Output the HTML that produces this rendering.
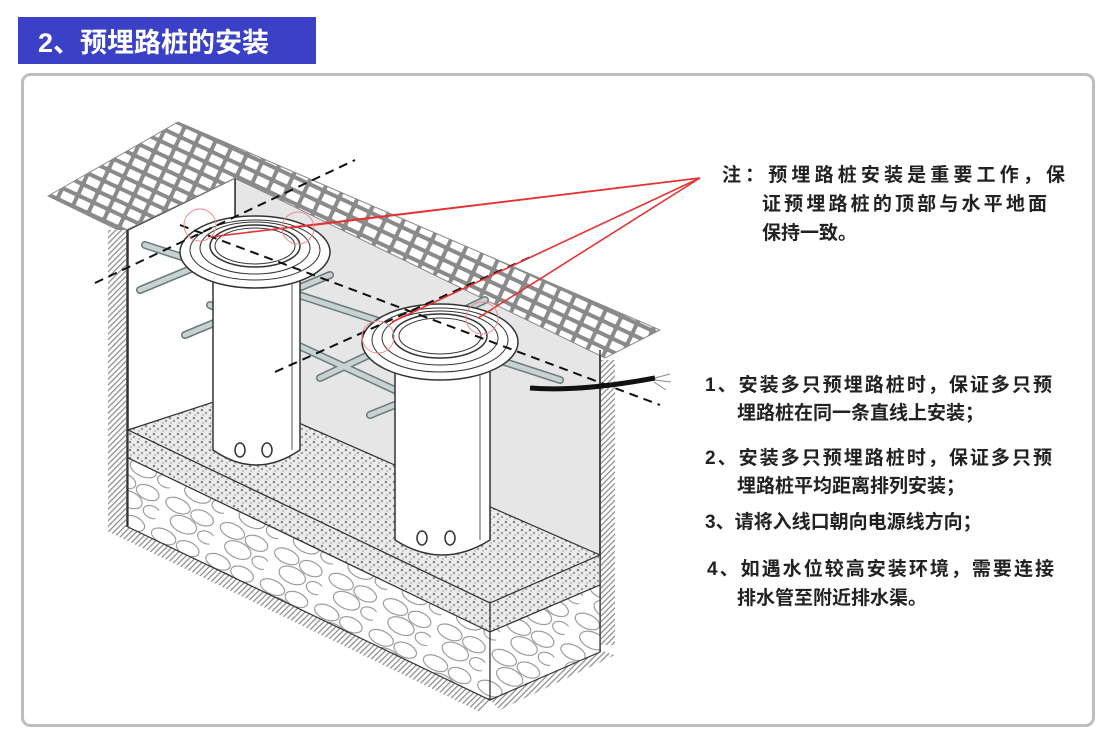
<!DOCTYPE html>
<html><head><meta charset="utf-8"><style>
body{margin:0;background:#fff;width:1109px;height:742px;overflow:hidden;font-family:"Liberation Sans","Noto Sans CJK SC",sans-serif}
</style></head><body>
<svg width="1109" height="742" viewBox="0 0 1109 742" xmlns="http://www.w3.org/2000/svg" font-family="Liberation Sans, Noto Sans CJK SC, sans-serif">
<defs>
<pattern id="grid" width="17" height="12" patternUnits="userSpaceOnUse" patternTransform="rotate(25)">
<rect width="17" height="12" fill="#8a8a8a"/><rect x="2" y="2" width="13" height="8" rx="1" fill="#fff"/>
</pattern>
<pattern id="hatch" width="4" height="4" patternUnits="userSpaceOnUse" patternTransform="rotate(45)">
<rect width="4" height="4" fill="#fff"/><rect width="1.2" height="4" fill="#888"/>
</pattern>
<pattern id="dots" width="8" height="8" patternUnits="userSpaceOnUse">
<rect width="8" height="8" fill="#ececec"/><circle cx="2" cy="2" r="1.3" fill="#8a8a8a"/><circle cx="6" cy="5" r="1.2" fill="#9a9a9a"/><circle cx="3" cy="7" r="0.9" fill="#aaa"/>
</pattern>
<pattern id="stones" width="60" height="34" patternUnits="userSpaceOnUse" patternTransform="rotate(25)">
<rect width="60" height="34" fill="#fff"/>
<ellipse cx="15" cy="9" rx="13" ry="7" fill="none" stroke="#888" stroke-width="1"/>
<ellipse cx="42" cy="10" rx="12" ry="7" fill="none" stroke="#888" stroke-width="1"/>
<ellipse cx="28" cy="24" rx="14" ry="8" fill="none" stroke="#888" stroke-width="1"/>
<ellipse cx="54" cy="26" rx="9" ry="6" fill="none" stroke="#888" stroke-width="1"/>
</pattern>
</defs>
<rect x="18" y="17" width="298" height="47" fill="#3a41c6"/>
<text x="38" y="52" font-size="27" font-weight="bold" fill="#fff">2、预埋路桩的安装</text>
<rect x="22.5" y="74.5" width="1071" height="651" rx="8" fill="#fff" stroke="#bdbdbd" stroke-width="3"/>

<polygon points="235,178 600,350 600,560 235,400" fill="#e6e6e6" stroke="#333" stroke-width="1.5"/>
<polygon points="128,230 235,178 235,400 128,430" fill="#fff" stroke="#333" stroke-width="1.5"/>
<polygon points="48,196 178,122 660,330 605,358 235,178 122,232" fill="url(#grid)" stroke="#888" stroke-width="1"/>
<rect x="108" y="230" width="18" height="300" fill="url(#hatch)"/>
<line x1="127" y1="230" x2="127" y2="527" stroke="#333" stroke-width="1.5"/>
<polygon points="105,530 128,527 490,700 480,712" fill="url(#hatch)"/>
<polygon points="490,700 600,650 615,655 500,710" fill="url(#hatch)"/>
<rect x="601" y="360" width="14" height="285" fill="url(#hatch)"/>
<line x1="600" y1="350" x2="600" y2="652" stroke="#333" stroke-width="1.5"/>
<polygon points="128,430 235,395 600,555 490,603" fill="url(#dots)" stroke="#333" stroke-width="1.2"/>
<polygon points="128,430 490,603 490,632 128,458" fill="url(#dots)" stroke="#333" stroke-width="1.2"/>
<polygon points="490,603 600,555 600,585 490,632" fill="url(#dots)" stroke="#333" stroke-width="1.2"/>
<polygon points="128,458 490,632 490,700 128,527" fill="url(#stones)" stroke="#333" stroke-width="1.2"/>
<polygon points="490,632 600,585 600,652 490,700" fill="url(#stones)" stroke="#333" stroke-width="1.2"/>

<g stroke="#6a7a7a" stroke-width="8" stroke-linecap="round">
<line x1="145" y1="245" x2="560" y2="380"/>
<line x1="140" y1="290" x2="285" y2="230"/>
<line x1="185" y1="335" x2="330" y2="275"/>
<line x1="320" y1="378" x2="485" y2="300"/>
<line x1="370" y1="415" x2="505" y2="360"/>
<line x1="210" y1="305" x2="460" y2="420"/>
</g>
<g stroke="#c9d2d2" stroke-width="5" stroke-linecap="round">
<line x1="145" y1="245" x2="560" y2="380"/>
<line x1="140" y1="290" x2="285" y2="230"/>
<line x1="185" y1="335" x2="330" y2="275"/>
<line x1="320" y1="378" x2="485" y2="300"/>
<line x1="370" y1="415" x2="505" y2="360"/>
<line x1="210" y1="305" x2="460" y2="420"/>
</g>
<path d="M530,388 Q580,392 655,378" stroke="#111" stroke-width="5" fill="none"/>
<path d="M655,378 l15,-4 M655,380 l16,2 M654,382 l12,8" stroke="#888" stroke-width="1" fill="none"/>

<path d="M213,255 L213,450 Q256,480 300,450 L300,255 Z" fill="#fff" stroke="#333" stroke-width="1.5"/>
<line x1="292" y1="260" x2="292" y2="450" stroke="#555"/>
<ellipse cx="240" cy="450" rx="5" ry="7" fill="none" stroke="#333" stroke-width="1.5"/>
<ellipse cx="267" cy="450" rx="5" ry="7" fill="none" stroke="#333" stroke-width="1.5"/>
<ellipse cx="255" cy="252" rx="75" ry="36" fill="#fff" stroke="#333" stroke-width="1.5"/>
<ellipse cx="255" cy="250" rx="65" ry="30" fill="none" stroke="#333"/>
<ellipse cx="255" cy="248" rx="55" ry="26" fill="none" stroke="#333"/>
<ellipse cx="255" cy="246" rx="45" ry="21" fill="#fff" stroke="#333" stroke-width="1.5"/>
<ellipse cx="255" cy="246" rx="40" ry="18" fill="none" stroke="#333"/>
<path d="M395,345 L395,540 Q442,570 490,540 L490,345 Z" fill="#fff" stroke="#333" stroke-width="1.5"/>
<line x1="480" y1="350" x2="480" y2="540" stroke="#555"/>
<ellipse cx="422" cy="538" rx="5" ry="7" fill="none" stroke="#333" stroke-width="1.5"/>
<ellipse cx="450" cy="538" rx="5" ry="7" fill="none" stroke="#333" stroke-width="1.5"/>
<ellipse cx="440" cy="342" rx="78" ry="38" fill="#fff" stroke="#333" stroke-width="1.5"/>
<ellipse cx="440" cy="340" rx="68" ry="32" fill="none" stroke="#333"/>
<ellipse cx="440" cy="338" rx="58" ry="27" fill="none" stroke="#333"/>
<ellipse cx="440" cy="336" rx="47" ry="22" fill="#fff" stroke="#333" stroke-width="1.5"/>
<ellipse cx="440" cy="336" rx="41" ry="18" fill="none" stroke="#333"/>

<g stroke="#111" stroke-width="2" stroke-dasharray="9,6">
<line x1="95" y1="283" x2="355" y2="160"/>
<line x1="275" y1="372" x2="535" y2="255"/>
<line x1="180" y1="225" x2="660" y2="405"/>
</g>
<g stroke="#e53333" stroke-width="1.6" fill="none">
<line x1="700" y1="178" x2="210" y2="237"/>
<line x1="700" y1="178" x2="290" y2="228"/>
<line x1="700" y1="178" x2="392" y2="322"/>
<line x1="700" y1="178" x2="478" y2="318"/>
</g>
<g stroke="#e88" stroke-width="1" fill="none">
<circle cx="200" cy="225" r="16"/><circle cx="298" cy="228" r="16"/><circle cx="378" cy="337" r="16"/><circle cx="482" cy="318" r="16"/>
</g>

<g font-size="19" fill="#222" font-weight="bold">
<text x="722" y="181" textLength="343">注：预埋路桩安装是重要工作，保</text>
<text x="762" y="210" textLength="285">证预埋路桩的顶部与水平地面</text>
<text x="762" y="239">保持一致。</text>
<text x="705" y="391" textLength="347">1、安装多只预埋路桩时，保证多只预</text>
<text x="737" y="419">埋路桩在同一条直线上安装；</text>
<text x="705" y="464" textLength="347">2、安装多只预埋路桩时，保证多只预</text>
<text x="737" y="492">埋路桩平均距离排列安装；</text>
<text x="705" y="528">3、请将入线口朝向电源线方向；</text>
<text x="707" y="575" textLength="347">4、如遇水位较高安装环境，需要连接</text>
<text x="737" y="604">排水管至附近排水渠。</text>
</g>
</svg>
</body></html>
